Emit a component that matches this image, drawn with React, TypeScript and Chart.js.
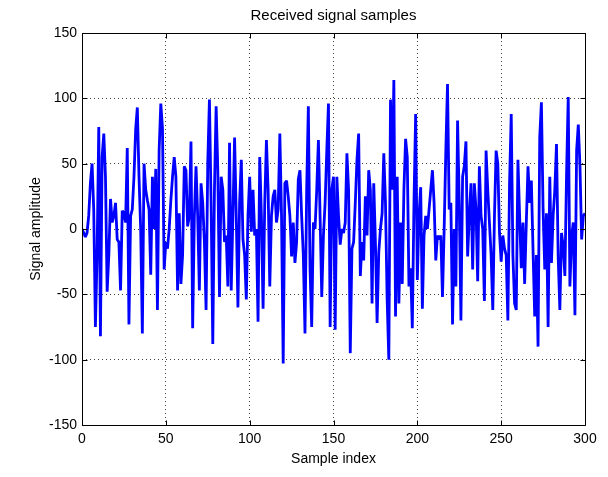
import React, { useEffect, useRef } from 'react';
import { Chart, registerables } from 'chart.js';

Chart.register(...registerables);

const chartTitle = 'Received signal samples';
const xAxisLabel = 'Sample index';
const yAxisLabel = 'Signal amplitude';

const xTicks = [0, 50, 100, 150, 200, 250, 300];
const yTicks = [-150, -100, -50, 0, 50, 100, 150];

const signalAmplitude = [
  0, -3, -6, -3, 10, 35, 50, 15, -75, -20,
  78, -82, 55, 73, 40, -48, -20, 23, 5, 10,
  20, -8, -10, -47, 14, 12, 5, 62, -73, 10,
  15, 40, 76, 93, 40, 0, -80, 50, 30, 22,
  15, -35, 40, 0, 46, -62, 60, 96, 77, -31,
  -10, -15, 0, 22, 40, 55, 40, -47, 12, -42,
  -20, 48, 45, 2, 10, 67, -76, 9, 48, 10,
  -47, 35, 20, -10, -62, 50, 99, 20, -88, 30,
  94, 45, -52, 40, 30, -10, -5, -44, 66, -47,
  10, 70, 10, -60, 20, 53, -8, -20, -54, 10,
  40, -2, 30, -5, 0, -71, 55, 10, -61, 20,
  68, 30, -44, 10, 25, 30, 5, 15, 73, 10,
  -103, 35, 37, 25, 10, -21, 5, -26, -10, 38,
  45, 10, -20, -80, 30, 94, -30, -75, 5, 0,
  30, 68, 10, -52, -5, 20, 60, 96, -75, 30,
  40, -77, 40, 10, -12, 0, -3, 5, 58, 30,
  -95, -15, -10, 20, 53, 73, -36, -10, -24, 25,
  -5, 45, 30, -57, 35, -10, -72, -18, 0, 12,
  58, 20, -54, -100, 99, 30, 114, -67, 40, -57,
  5, -42, 30, 69, 55, -44, -30, -76, 20, 88,
  -39, 10, 32, -61, -5, 10, 0, 15, 30, 45,
  20, -24, -5, -8, -5, -52, 0, 60, 111, 15,
  20, -73, 0, -44, 83, 20, -70, 40, 48, 67,
  -21, 10, 35, -31, 35, 15, -40, 48, 10, 0,
  -55, 60, 30, 5, -20, -62, 10, 60, 50, -3,
  -25, -5, -15, -20, -70, 35, 88, -20, -57, -62,
  53, 10, -30, 5, -42, 5, 48, 20, 37, -16,
  -67, -20, -90, 70, 97, 15, -31, 12, -75, 40,
  -26, 10, 30, 65, -21, -62, -3, -13, -36, 42,
  101, -44, -6, 5, -66, 60, 80, 48, -8, 10,
  12,
];

const FONT = 'Liberation Sans, Arial, Helvetica, sans-serif';

const matlabBox = {
  id: 'matlabBox',
  afterDraw(chart: any) {
    const { ctx, chartArea } = chart;
    const xs = chart.scales.x;
    const ys = chart.scales.y;
    const { left, right, top, bottom } = chartArea;
    const L = Math.round(left) + 0.5;
    const R = Math.round(right) + 0.5;
    const T = Math.round(top) + 0.5;
    const B = Math.round(bottom) + 0.5;
    ctx.save();
    ctx.strokeStyle = '#000';
    ctx.lineWidth = 1;
    ctx.setLineDash([]);
    ctx.beginPath();
    ctx.rect(L, T, R - L, B - T);
    const tl = 5;
    xTicks.forEach((v) => {
      const px = Math.round(xs.getPixelForValue(v)) + 0.5;
      ctx.moveTo(px, B);
      ctx.lineTo(px, B - tl);
      ctx.moveTo(px, T);
      ctx.lineTo(px, T + tl);
    });
    yTicks.forEach((v) => {
      const py = Math.round(ys.getPixelForValue(v)) + 0.5;
      ctx.moveTo(L, py);
      ctx.lineTo(L + tl, py);
      ctx.moveTo(R, py);
      ctx.lineTo(R - tl, py);
    });
    ctx.stroke();

    // chart title, centred over the axes box like MATLAB
    ctx.fillStyle = '#000';
    ctx.font = `15px ${FONT}`;
    ctx.textAlign = 'center';
    ctx.textBaseline = 'alphabetic';
    ctx.fillText(chartTitle, (left + right) / 2, 20);
    ctx.restore();
  },
};

const whiteBg = {
  id: 'whiteBg',
  beforeDraw(chart: any) {
    const { ctx, width, height } = chart;
    ctx.save();
    ctx.fillStyle = '#fff';
    ctx.fillRect(0, 0, width, height);
    ctx.restore();
  },
};

export default function App() {
  const canvasRef = useRef<HTMLCanvasElement | null>(null);

  useEffect(() => {
    if (!canvasRef.current) return;
    const data = signalAmplitude.map((v, i) => ({ x: i, y: v }));
    const chart = new Chart(canvasRef.current, {
      type: 'line',
      data: {
        datasets: [
          {
            data,
            borderColor: '#0000ff',
            backgroundColor: '#0000ff',
            borderWidth: 2.8,
            pointRadius: 0,
            tension: 0,
            borderJoinStyle: 'bevel',
            fill: false,
          },
        ],
      },
      options: {
        responsive: false,
        animation: false,
        devicePixelRatio: 1,
        layout: { padding: { left: 0, right: 23, top: 33, bottom: 0 } },
        plugins: {
          legend: { display: false },
          tooltip: { enabled: false },
          title: { display: false },
        },
        scales: {
          x: {
            type: 'linear',
            position: 'bottom',
            min: 0,
            max: 300,
            afterBuildTicks: (scale: any) => {
              scale.ticks = xTicks.map((v) => ({ value: v }));
            },
            afterFit: (scale: any) => {
              scale.height = 52;
            },
            ticks: {
              color: '#000',
              font: { family: FONT, size: 14 },
              padding: 6,
              maxRotation: 0,
              autoSkip: false,
            },
            grid: {
              color: 'rgba(0,0,0,0.75)',
              lineWidth: 1,
              drawTicks: false,
            },
            border: { display: false, dash: [1, 3] },
            title: {
              display: true,
              text: xAxisLabel,
              color: '#000',
              font: { family: FONT, size: 14 },
              padding: { top: 0, bottom: 9 },
            },
          },
          y: {
            type: 'linear',
            min: -150,
            max: 150,
            afterBuildTicks: (scale: any) => {
              scale.ticks = yTicks.map((v) => ({ value: v }));
            },
            afterFit: (scale: any) => {
              scale.width = 82;
            },
            ticks: {
              color: '#000',
              font: { family: FONT, size: 14 },
              padding: 5,
              autoSkip: false,
            },
            grid: {
              color: 'rgba(0,0,0,0.75)',
              lineWidth: 1,
              drawTicks: false,
            },
            border: { display: false, dash: [1, 3] },
            title: {
              display: true,
              text: yAxisLabel,
              color: '#000',
              font: { family: FONT, size: 14 },
              padding: { top: 28, bottom: 0 },
            },
          },
        },
      },
      plugins: [whiteBg, matlabBox],
    } as any);
    return () => chart.destroy();
  }, []);

  return (
    <div
      style={{
        position: 'fixed',
        left: 0,
        top: 0,
        width: 608,
        height: 477,
        background: '#fff',
      }}
    >
      <canvas ref={canvasRef} width={608} height={477} style={{ width: 608, height: 477 }} />
    </div>
  );
}
